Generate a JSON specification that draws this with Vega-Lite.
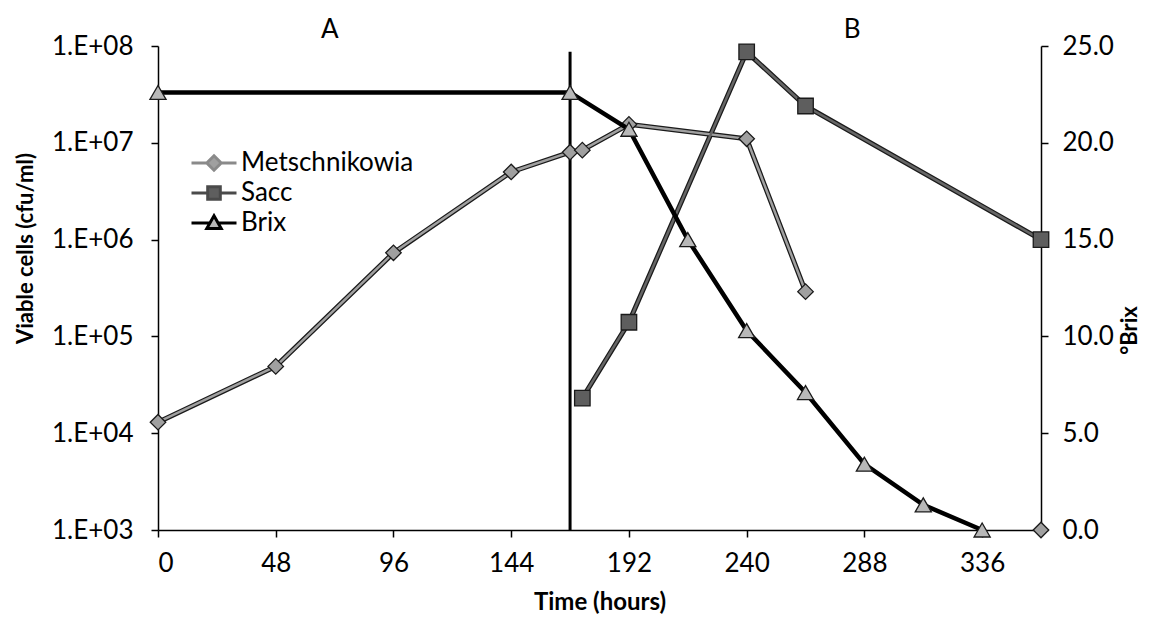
{
  "$schema": "https://vega.github.io/schema/vega-lite/v6.json",
  "autosize": {"type": "none"},
  "width": 883,
  "height": 484,
  "padding": {"left": 158, "top": 46, "right": 113, "bottom": 92},
  "background": "white",
  "config": {
    "view": {"stroke": null},
    "font": "Lato",
    "axis": {
      "grid": false,
      "domainColor": "#000",
      "domainWidth": 1.5,
      "tickColor": "#000",
      "tickWidth": 1.5,
      "tickSize": 7,
      "labelColor": "#000",
      "labelFont": "Lato",
      "labelFontSize": 26,
      "titleColor": "#000",
      "titleFont": "Lato",
      "titleFontSize": 24,
      "titleFontWeight": "bold"
    },
    "legend": {
      "labelFont": "Lato",
      "labelFontSize": 26,
      "labelColor": "#000",
      "labelLimit": 400,
      "symbolStrokeWidth": 3
    }
  },
  "datasets": {
    "counts": [
      {"series": "Metschnikowia", "time": 0, "value": 13000},
      {"series": "Metschnikowia", "time": 48, "value": 49000},
      {"series": "Metschnikowia", "time": 96, "value": 730000},
      {"series": "Metschnikowia", "time": 144, "value": 5000000},
      {"series": "Metschnikowia", "time": 168, "value": 8000000},
      {"series": "Metschnikowia", "time": 173, "value": 8400000},
      {"series": "Metschnikowia", "time": 192, "value": 15500000},
      {"series": "Metschnikowia", "time": 240, "value": 11000000},
      {"series": "Metschnikowia", "time": 264, "value": 290000},
      {"series": "Metschnikowia", "time": 360, "value": 1000},
      {"series": "Sacc", "time": 173, "value": 23000},
      {"series": "Sacc", "time": 192, "value": 140000},
      {"series": "Sacc", "time": 240, "value": 87000000},
      {"series": "Sacc", "time": 264, "value": 24000000},
      {"series": "Sacc", "time": 360, "value": 1000000}
    ],
    "brix": [
      {"series": "Brix", "time": 0, "value": 22.6},
      {"series": "Brix", "time": 168, "value": 22.6},
      {"series": "Brix", "time": 192, "value": 20.7},
      {"series": "Brix", "time": 216, "value": 15.0},
      {"series": "Brix", "time": 240, "value": 10.3},
      {"series": "Brix", "time": 264, "value": 7.1},
      {"series": "Brix", "time": 288, "value": 3.4},
      {"series": "Brix", "time": 312, "value": 1.3},
      {"series": "Brix", "time": 336, "value": 0.0}
    ],
    "divider": [
      {"time": 168, "low": 1000, "high": 87000000}
    ],
    "phases": [
      {"label": "A", "time": 70, "value": 146000000},
      {"label": "B", "time": 283, "value": 146000000}
    ]
  },
  "layer": [
    {
      "encoding": {
        "x": {
          "field": "time", "type": "quantitative",
          "scale": {"domain": [0, 360], "nice": false, "zero": false},
          "axis": {"values": [0, 48, 96, 144, 192, 240, 288, 336], "title": "Time (hours)", "labelPadding": 13, "titlePadding": 14}
        }
      },
      "layer": [
        {
          "data": {"name": "counts"},
          "transform": [{"filter": "datum.time < 0"}],
          "mark": {"type": "point", "filled": true, "opacity": 1, "strokeWidth": 3, "size": 324},
          "encoding": {
            "y": {
              "field": "value", "type": "quantitative",
              "scale": {"type": "log", "domain": [1000, 100000000], "nice": false},
              "axis": {
                "orient": "left",
                "values": [1000, 10000, 100000, 1000000, 10000000, 100000000],
                "labelExpr": "'1.E+0' + round(log(datum.value)/LN10)",
                "title": "Viable cells (cfu/ml)",
                "titleFontSize": 22,
                "titleY": 202,
                "labelPadding": 18,
                "titlePadding": 14
              }
            },
            "fill": {
              "field": "series", "type": "nominal",
              "scale": {"domain": ["Metschnikowia", "Sacc", "Brix"], "range": ["#a0a0a0", "#5e5e5e", "#b8b8b8"]},
              "legend": {
                "title": null,
                "orient": "none",
                "legendX": 43,
                "legendY": 104,
                "padding": 0,
                "symbolSize": 324,
                "symbolStrokeWidth": 3,
                "labelOffset": 14,
                "rowPadding": 3
              }
            },
            "shape": {
              "field": "series", "type": "nominal",
              "scale": {
                "domain": ["Metschnikowia", "Sacc", "Brix"],
                "range": [
                  "M-2.5,0L-0.8,0M0.8,0L2.5,0M0,-0.8L0.8,0L0,0.8L-0.8,0Z",
                  "M-2.5,0L-0.7,0M0.7,0L2.5,0M-0.7,-0.7L0.7,-0.7L0.7,0.7L-0.7,0.7Z",
                  "M-2.5,0L-0.46,0M0.46,0L2.5,0M0,-0.8L0.8,0.6L-0.8,0.6Z"
                ]
              }
            },
            "stroke": {
              "field": "series", "type": "nominal",
              "scale": {"domain": ["Metschnikowia", "Sacc", "Brix"], "range": ["#8a8a8a", "#4a4a4a", "#000000"]}
            }
          }
        },
        {
          "data": {"name": "counts"},
          "transform": [{"filter": "datum.series !== 'Metschnikowia' || datum.time < 300"}],
          "mark": {"type": "line", "strokeWidth": 5, "color": "#1a1a1a"},
          "encoding": {
            "y": {"field": "value", "type": "quantitative"},
            "detail": {"field": "series"}
          }
        },
        {
          "data": {"name": "counts"},
          "transform": [{"filter": "datum.series !== 'Metschnikowia' || datum.time < 300"}],
          "mark": {"type": "line", "strokeWidth": 2.5},
          "encoding": {
            "y": {"field": "value", "type": "quantitative"},
            "color": {
              "condition": {"test": "datum.series === 'Sacc'", "value": "#666666"},
              "value": "#a0a0a0"
            },
            "detail": {"field": "series"}
          }
        },
        {
          "data": {"name": "divider"},
          "mark": {"type": "rule", "strokeWidth": 3, "color": "#000"},
          "encoding": {
            "y": {"field": "low", "type": "quantitative"},
            "y2": {"field": "high"}
          }
        },
        {
          "data": {"name": "counts"},
          "mark": {"type": "point", "filled": true, "opacity": 1, "stroke": "#1a1a1a", "strokeWidth": 1.3},
          "encoding": {
            "y": {"field": "value", "type": "quantitative"},
            "fill": {"field": "series", "type": "nominal"},
            "shape": {
              "condition": {"test": "datum.series === 'Sacc'", "value": "square"},
              "value": "diamond"
            },
            "size": {"value": 240}
          }
        },
        {
          "data": {"name": "phases"},
          "mark": {"type": "text", "font": "Lato", "fontSize": 26, "color": "#000", "baseline": "middle"},
          "encoding": {
            "y": {"field": "value", "type": "quantitative"},
            "text": {"field": "label"}
          }
        }
      ]
    },
    {
      "data": {"name": "brix"},
      "encoding": {
        "x": {"field": "time", "type": "quantitative"},
        "y": {
          "field": "value", "type": "quantitative",
          "scale": {"domain": [0, 25], "nice": false},
          "axis": {
            "orient": "right",
            "values": [0, 5, 10, 15, 20, 25],
            "format": ".1f",
            "title": "°Brix",
            "titleAngle": -90,
            "titleFontSize": 22,
            "titleY": 284,
            "labelPadding": 14,
            "titlePadding": 28
          }
        }
      },
      "layer": [
        {"mark": {"type": "line", "strokeWidth": 4.5, "color": "#000"}},
        {
          "mark": {"type": "point", "filled": true, "opacity": 1, "stroke": "#1a1a1a", "strokeWidth": 1.3, "shape": "triangle-up"},
          "encoding": {
            "fill": {"field": "series", "type": "nominal"},
            "size": {"value": 260}
          }
        }
      ]
    }
  ],
  "resolve": {"scale": {"y": "independent"}}
}
